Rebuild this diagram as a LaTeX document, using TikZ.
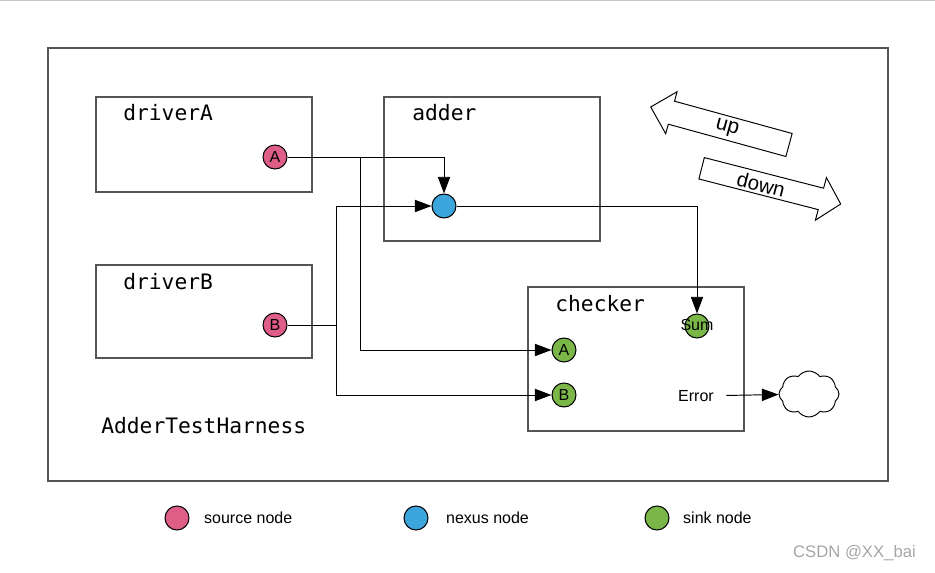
\documentclass[tikz,border=0pt]{standalone}
\usepackage{fontspec}
\setmainfont{Liberation Sans}
\newfontfamily\monofont{DejaVu Sans Mono}
\usetikzlibrary{arrows.meta, shapes.symbols}

\definecolor{srccol}{RGB}{222,94,135}
\definecolor{nexcol}{RGB}{59,165,220}
\definecolor{snkcol}{RGB}{122,182,72}
\definecolor{boxcol}{RGB}{85,85,85}

\tikzset{
port/.style = {draw, circle, minimum size=0.48cm, inner sep=0pt, line width=0.6pt, font=\fontsize{9.1}{10}\selectfont},
src/.style = {port, fill=srccol},
nex/.style = {port, fill=nexcol},
snk/.style = {port, fill=snkcol},
frame/.style = {draw=boxcol, line width=0.85pt},
title/.style = {anchor=west, inner sep=0pt, font=\monofont\fontsize{12.1}{14}\selectfont},
lbl/.style = {font=\fontsize{9.1}{10}\selectfont},
conn/.style = {line width=0.55pt},
arr/.style = {conn, -{Triangle[length=9.5pt, width=7pt]}},
dir/.style = {draw, fill=white, line width=0.55pt},
}

\begin{document}
\begin{tikzpicture}[x=0.02cm, y=-0.02cm]
\useasboundingbox (0,0) rectangle (935,573);
\draw[gray!45, line width=1pt] (0,0.5) -- (935,0.5);

\draw[frame] (48,48) rectangle (888,481);
\draw[frame] (96,97) rectangle (312,192);
\draw[frame] (384,97) rectangle (600,241);
\draw[frame] (96,265) rectangle (312,358);
\draw[frame] (528,287) rectangle (744,431);

\node[title] (tA) at (123,113) {driverA};
\node[title] (tadd) at (412,113) {adder};
\node[title] (tB) at (123,282) {driverB};
\node[title] (tchk) at (555,304) {checker};
\node[title] (thar) at (101,426) {AdderTestHarness};

\node[src] (srcA) at (275,157) {A};
\node[src] (srcB) at (275,325) {B};
\node[nex] (nex) at (444,206) {};
\node[snk] (sum) at (697,326) {\makebox[0pt]{\raisebox{1.1pt}{Sum}}};
\node[snk] (chkA) at (564,350) {A};
\node[snk] (chkB) at (564,395) {B};
\node[lbl, inner xsep=7pt] (err) at (696,396) {Error};
\node[cloud, draw, cloud puffs=8, cloud puff arc=110, aspect=1.3, minimum width=1.2cm, minimum height=0.92cm, inner sep=0pt, line width=0.55pt] (cl) at (809,394) {};

\coordinate (ja) at (360,157);
\coordinate (jb) at (336,325);
\draw[arr] (srcA) -| (nex);
\draw[arr] (ja) |- (chkA);
\draw[conn] (srcB) -- (jb);
\draw[arr] (jb) |- (nex);
\draw[arr] (jb) |- (chkB);
\draw[arr] (nex) -| (sum);
\draw[arr] (err) -- (cl);

\draw[dir] (792.1,133.5) -- (674.5,101.2) -- (677.1,91.7) -- (650.7,107) -- (665.7,133.7) -- (668.3,124.2) -- (785.9,156.5) -- cycle;
\draw[dir] (704.3,157.6) -- (823.6,188.2) -- (826.4,177.6) -- (840.7,204) -- (815.4,220.2) -- (818.2,209.6) -- (698.9,179) -- cycle;
\node[rotate=-15.3, font=\fontsize{12}{14}\selectfont] (up) at (727,128) {up};
\node[rotate=-14.4, inner sep=1pt, font=\fontsize{11.6}{13}\selectfont] (down) at (761,184.5) {down};

\node[src] (kA) at (177,518) {};
\node[lbl, anchor=west] (kAt) at (198,518) {source node};
\node[nex] (kB) at (416,518) {};
\node[lbl, anchor=west] (kBt) at (440,518) {nexus node};
\node[snk] (kC) at (657,518) {};
\node[lbl, anchor=west] (kCt) at (677,518) {sink node};

\node[anchor=east, text=gray!70, font=\fontsize{9.5}{11}\selectfont] (wm) at (922,553) {CSDN @XX\_bai};
\end{tikzpicture}
\end{document}
